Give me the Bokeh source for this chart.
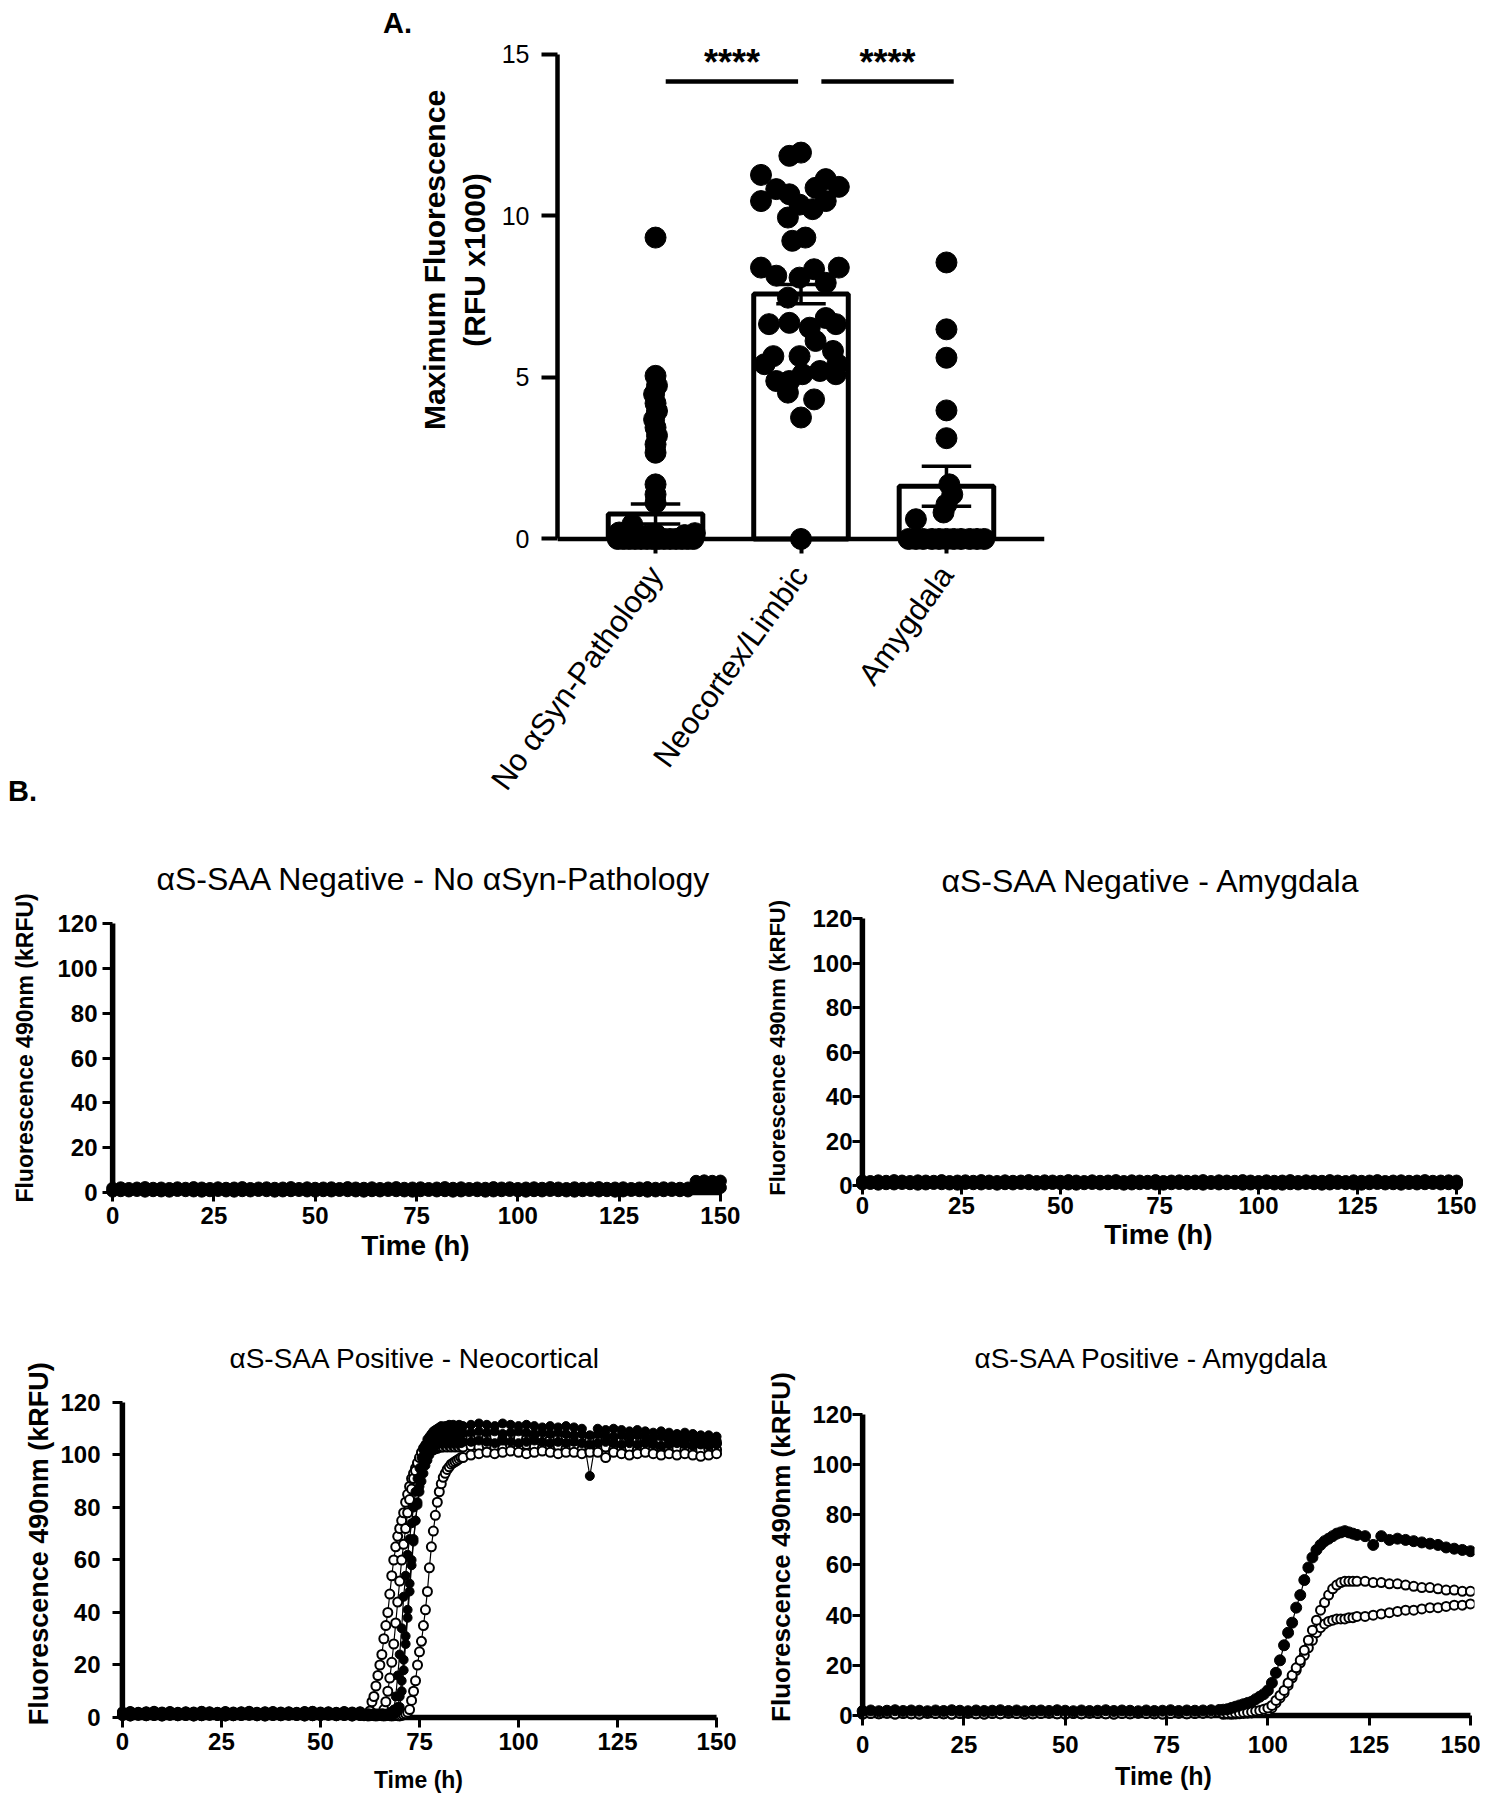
import math
from bokeh.plotting import figure
from bokeh.models import Range1d, Div, Spacer
from bokeh.layouts import column, row
from bokeh.embed import file_html
from bokeh.resources import INLINE

FONT = "Liberation Sans"
NB = "\u00a0"

# ---------------- Panel A data ----------------
categories = ["No αSyn-Pathology", "Neocortex/Limbic", "Amygdala"]
bar_means = [0.77, 7.58, 1.63]
bar_sems = [0.31, 0.30, 0.62]

g1_vals = [9.33, 5.05, 4.75, 4.48, 4.2, 3.96, 3.7, 3.45, 3.2, 2.93, 2.67, 1.69, 1.38, 1.12,
           0.45, 0.2, 0.15, 0.12, 0.18, 0.1,
           0, 0, 0, 0, 0, 0, 0, 0, 0, 0, 0, 0, 0, 0]
g2_vals = [11.86, 11.96, 11.27, 11.14, 10.90, 10.87, 10.83, 10.67, 10.46, 10.46, 10.21, 10.35,
           9.95, 9.23, 9.33, 8.40, 8.15, 8.09, 8.35, 8.40, 7.93, 7.47, 6.65, 6.69, 6.54, 6.84,
           6.65, 6.13, 5.82, 5.41, 5.66, 5.66, 5.41, 5.20, 5.10, 4.89, 4.89, 5.10, 4.53, 4.32,
           3.76, 0.0]
g3_vals = [8.56, 6.49, 5.61, 3.98, 3.12, 1.69, 1.38, 1.07, 0.82, 0.61,
           0, 0, 0, 0, 0, 0, 0, 0, 0, 0, 0]
comparisons = [(0, 1, "****"), (1, 2, "****")]

# horizontal scatter placement (beeswarm offsets, layout only)
g1_jit = [0, 0, 0.01, -0.01, 0, 0.01, -0.01, 0, 0.01, 0, 0, 0, 0, 0,
          -0.16, -0.25, 0.0, 0.2, 0.27, -0.06,
          -0.26, -0.22, -0.18, -0.14, -0.10, -0.06, -0.02, 0.02, 0.06, 0.10, 0.14, 0.18, 0.22, 0.26]
g2_jit = [-0.08, 0.0, -0.275, 0.17, 0.26, 0.10, -0.17, -0.08, -0.275, 0.17, 0.08, -0.01,
          -0.09, -0.06, 0.03, -0.275, -0.17, -0.01, 0.09, 0.26, 0.17, -0.09, -0.22, -0.08,
          0.06, 0.17, 0.24, 0.10, 0.22, 0.25, -0.19, -0.01, -0.25, 0.13, 0.24, -0.17, -0.08,
          0.01, -0.09, 0.09, 0.0, 0.0]
g3_jit = [0, 0, 0, 0, 0, 0.02, 0.04, 0.0, -0.02, -0.21,
          -0.26, -0.21, -0.16, -0.10, -0.05, 0, 0.05, 0.10, 0.16, 0.21, 0.26]

# ---------------- Panel B data ----------------
time_ticks = [0, 25, 50, 75, 100, 125, 150]
fluor_ticks = [0, 20, 40, 60, 80, 100, 120]

# negative panels: readings every 2 h
t_neg = list(range(0, 151, 2))
tl_low = [0.6, 0.8, 0.7, 0.9, 0.6, 0.8, 0.7, 0.6, 0.9, 0.8,
          0.7, 0.6, 0.8, 0.9, 0.7, 0.6, 0.8, 0.7, 0.9, 0.8,
          0.6, 0.7, 0.8, 0.9, 0.7, 0.6, 0.8, 0.7, 0.9, 0.8,
          0.7, 0.6, 0.8, 0.7, 0.9, 0.8, 0.7, 0.6, 0.8, 0.9,
          0.7, 0.8, 0.6, 0.7, 0.9, 0.8, 0.6, 0.7, 0.8, 0.9,
          0.7, 0.6, 0.8, 0.7, 0.9, 0.8, 0.7, 0.6, 0.8, 0.9,
          0.7, 0.8, 0.6, 0.7, 0.9, 0.8, 0.6, 0.7, 0.8, 0.9,
          0.8, 0.7, 5.0, 5.2, 5.0, 5.1]
tl_high = [1.9, 2.1, 1.8, 2.0, 2.2, 1.9, 2.0, 1.8, 2.1, 1.9,
           2.2, 2.0, 1.8, 2.1, 1.9, 2.0, 2.2, 1.8, 2.0, 2.1,
           1.9, 2.0, 2.2, 1.8, 2.1, 1.9, 2.0, 2.1, 1.8, 2.2,
           2.0, 1.9, 2.1, 1.8, 2.0, 2.2, 1.9, 2.0, 2.1, 1.8,
           2.0, 2.2, 1.9, 2.1, 1.8, 2.0, 1.9, 2.2, 2.0, 2.1,
           1.8, 2.0, 2.1, 1.9, 2.2, 2.0, 1.8, 2.1, 1.9, 2.0,
           2.2, 1.9, 2.0, 2.1, 1.8, 2.0, 2.2, 1.9, 2.1, 2.0,
           1.9, 2.0, 2.1, 1.9, 2.0, 2.2]
tr_low = [0.7, 0.9, 0.6, 0.8, 0.7, 0.9, 0.8, 0.6, 0.7, 0.9,
          0.8, 0.7, 0.6, 0.9, 0.8, 0.7, 0.9, 0.6, 0.8, 0.7,
          0.9, 0.8, 0.6, 0.7, 0.9, 0.8, 0.7, 0.6, 0.8, 0.9,
          0.7, 0.8, 0.9, 0.6, 0.7, 0.8, 0.9, 0.7, 0.6, 0.8,
          0.9, 0.7, 0.8, 0.6, 0.9, 0.7, 0.8, 0.9, 0.6, 0.7,
          0.8, 0.9, 0.7, 0.6, 0.8, 0.7, 0.9, 0.8, 0.6, 0.7,
          0.9, 0.8, 0.7, 0.6, 0.8, 0.9, 0.7, 0.8, 0.6, 0.9,
          0.7, 0.8, 0.9, 0.7, 0.8, 0.7]
tr_high = [2.0, 1.8, 2.1, 1.9, 2.2, 2.0, 1.8, 2.1, 2.0, 1.9,
           2.2, 1.8, 2.0, 2.1, 1.9, 2.2, 2.0, 1.8, 2.1, 1.9,
           2.0, 2.2, 1.8, 2.1, 2.0, 1.9, 2.2, 2.0, 1.8, 2.1,
           1.9, 2.0, 2.2, 1.8, 2.1, 2.0, 1.9, 2.2, 1.8, 2.0,
           2.1, 1.9, 2.0, 2.2, 1.8, 2.1, 2.0, 1.9, 2.2, 2.0,
           1.8, 2.1, 1.9, 2.0, 2.2, 1.8, 2.1, 2.0, 1.9, 2.2,
           2.0, 1.8, 2.1, 1.9, 2.0, 2.2, 1.8, 2.0, 2.1, 1.9,
           2.0, 2.2, 1.9, 2.0, 2.1, 2.0]

# Neocortical positive panel: 2 h readings to 60 h, 0.5 h readings 61-86 h, 2 h readings after
t_neo = list(range(0, 61, 2)) + [61 + 0.5 * i for i in range(51)] + list(range(88, 151, 2))
neo_base_a = [0.8, 0.6, 0.9, 0.7, 0.8, 0.6, 0.9, 0.7, 0.8, 0.6,
              0.7, 0.9, 0.8, 0.6, 0.7, 0.8, 0.9, 0.7, 0.6, 0.8,
              0.7, 0.9, 0.8, 0.6, 0.7, 0.8, 0.9, 0.7, 0.8, 0.6, 0.8]
neo_base_b = [2.1, 2.3, 2.0, 2.2, 2.4, 2.1, 2.3, 2.0, 2.2, 2.1,
              2.4, 2.2, 2.0, 2.3, 2.1, 2.2, 2.4, 2.0, 2.2, 2.3,
              2.1, 2.2, 2.0, 2.3, 2.4, 2.1, 2.2, 2.0, 2.3, 2.1, 2.2]
neo_open_1 = neo_base_b + [
    1.0, 1.0, 1.3, 2.5, 6, 8, 12, 16, 20, 24,
    30, 35, 40, 47, 54, 60, 65, 69, 72, 75,
    78, 82, 85, 88, 91, 93, 95, 96.5, 98, 99,
    100, 100.5, 101, 101.5, 102, 102, 102.5, 102.5, 103, 103,
    103, 103.5, 103, 103.5, 103, 103.5, 103, 103.5, 103, 103.5, 103] + [
    103.5, 103, 104, 103, 102.5, 103.5, 103, 104, 103, 102.5,
    103, 103.5, 102.5, 103, 102, 103, 102.5, 103, 102, 102.5,
    103, 102, 102.5, 102, 103, 102, 102.5, 102, 101.5, 102, 102.5, 102]
neo_open_2 = neo_base_a + [
    1.0, 1.1, 0.9, 1.0, 1.1, 1.0, 0.9, 1.0, 1.2, 1.6,
    3, 6, 10, 15, 21, 28, 36, 44, 52, 60,
    66, 72, 78, 83, 87, 91, 94, 97, 99, 101,
    102.5, 103.5, 104, 104.5, 105, 105, 105.5, 105.5, 106, 106,
    106, 106.5, 106, 106.5, 106, 106.5, 106, 106.5, 106, 106.5, 106] + [
    106.5, 107, 106.5, 107, 106, 107, 106.5, 106, 107, 106.5,
    106, 106.5, 107, 106, 106.5, 106, 105.5, 106.5, 106, 105.5,
    106, 105.5, 106, 105, 105.5, 106, 105, 105.5, 105, 104.5, 105, 104.5]
neo_open_3 = neo_base_a + [
    0.7, 0.8, 0.6, 0.7, 0.8, 0.7, 0.6, 0.7, 0.8, 0.7,
    0.6, 0.7, 0.8, 0.7, 0.6, 0.7, 0.8, 0.7, 0.6, 0.8, 1.0, 1.4, 2.0,
    3, 6.5, 10, 14, 20, 25, 29,
    35, 41, 48, 57, 65, 71, 77, 82, 86, 89,
    91.5, 93, 94.5, 95.5, 96.5, 97, 97.5, 98, 98.5, 99, 99] + [
    100, 100.5, 101, 100.5, 101, 101.5, 101, 100.5, 101, 101.5,
    101, 100.5, 101, 101, 100.5, 101, 101, 99, 101, 100.5,
    100, 100.5, 101, 100.5, 100, 100.5, 100, 100.5, 100, 99.5, 100, 100.5]
neo_filled_1 = neo_base_b + [
    1.5, 1.4, 1.6, 1.5, 1.4, 1.6, 1.5, 1.5, 1.4, 1.6, 1.5, 1.4, 1.6, 1.8, 2.2,
    3, 8, 16, 24, 34,
    46, 54, 62, 68, 74, 80, 86, 91, 95, 99,
    102, 104, 106, 107, 108, 109, 109.5, 110, 110.5, 111,
    110.5, 111, 111, 111.5, 111, 111.5, 111, 111, 111.5, 111, 111] + [
    111.5, 112, 111.5, 111, 112, 111.5, 111, 111.5, 111, 110.5,
    111, 110.5, 111, 110.5, 110, 92, 110, 109.5, 110, 109.5,
    109, 109.5, 109, 108.5, 109, 108.5, 108, 108.5, 108, 107.5, 107.5, 107]
neo_filled_2 = neo_base_a + [
    0.8, 0.9, 0.7, 0.8, 0.9, 0.8, 0.7, 0.8, 0.9, 0.8, 0.7, 0.8, 0.9, 0.8, 1.0, 1.2, 1.6, 2.5,
    4, 10, 18, 28, 38, 48, 58, 67, 75, 82,
    88, 93, 97, 100, 102, 104, 105.5, 106.5, 107, 107.5,
    108, 108, 108.5, 108, 108.5, 108, 108.5, 108, 108.5, 108,
    108.5, 108, 108.5] + [
    108.5, 109, 108.5, 109, 108, 108.5, 109, 108.5, 108, 108.5,
    108, 108.5, 108, 107.5, 108, 107.5, 108, 107.5, 107, 107.5,
    107, 107.5, 107, 106.5, 107, 106.5, 106, 106.5, 106, 105.5, 106, 105.5]
neo_filled_3 = neo_base_b + [
    1.2, 1.1, 1.3, 1.2, 1.1, 1.3, 1.2, 1.1, 1.3, 1.2, 1.1, 1.3, 1.2, 1.4, 1.6, 2.0, 2.6,
    4, 8, 14, 22, 31, 41, 51, 60, 68, 75,
    81, 86, 90, 93, 96, 98, 100, 101.5, 102.5, 103.5,
    104, 104.5, 104.5, 105, 104.5, 105, 104.5, 105, 104.5, 105,
    104.5, 105, 104.5, 105] + [
    105, 105.5, 105, 104.5, 105.5, 105, 104.5, 105, 105.5, 105,
    104.5, 105, 104.5, 105, 104.5, 104, 104.5, 105, 104.5, 104,
    104.5, 104, 104.5, 104, 103.5, 104, 104.5, 104, 103.5, 104, 103.5, 104]

# Amygdala positive panel: 2 h readings to 88 h, 1 h readings 89-122 h, 2 h readings after
t_amy = list(range(0, 89, 2)) + list(range(89, 123)) + list(range(124, 151, 2))
amy_base_a = [0.6, 0.8, 0.7, 0.9, 0.6, 0.8, 0.7, 0.6, 0.9, 0.8,
              0.7, 0.6, 0.8, 0.9, 0.7, 0.6, 0.8, 0.7, 0.9, 0.8,
              0.6, 0.7, 0.8, 0.9, 0.7, 0.6, 0.8, 0.7, 0.9, 0.8,
              0.7, 0.6, 0.8, 0.7, 0.9, 0.8, 0.7, 0.6, 0.8, 0.9,
              0.7, 0.8, 0.9, 1.0, 1.2]
amy_base_b = [1.8, 2.0, 1.7, 1.9, 2.1, 1.8, 2.0, 1.9, 1.7, 2.0,
              1.8, 2.1, 1.9, 1.7, 2.0, 1.8, 1.9, 2.1, 1.8, 2.0,
              1.7, 1.9, 2.0, 1.8, 2.1, 1.9, 1.7, 2.0, 1.8, 1.9,
              2.1, 1.8, 2.0, 1.9, 1.7, 2.0, 1.8, 1.9, 2.1, 1.8,
              2.0, 1.9, 2.0, 2.1, 2.2]
amy_filled_1 = amy_base_b + [
    2.3, 2.5, 3, 3.5, 4, 4.5, 5, 5.5, 6.5, 7.5,
    8.5, 10, 13, 17, 22, 28, 33, 37, 43, 48,
    54, 59, 63, 66, 68, 69.5, 70.5, 71.5, 72.5, 73,
    73.5, 73, 72.5, 72] + [
    71.5, 68, 71.5, 70, 70.5, 70, 69.5, 69, 68.5, 68, 67, 66.5, 66, 65.5]
amy_open_1 = amy_base_a + [
    0.8, 0.8, 0.9, 1.0, 1.0, 1.2, 1.3, 1.5, 1.8, 2.0,
    2.5, 3, 4, 6, 8, 10, 13, 16, 19, 22,
    26, 30, 34, 38, 42, 45, 48, 50.5, 52, 53,
    53.5, 53.5, 53.5, 53.5] + [
    53.5, 53, 53, 52.5, 52.5, 52, 51.5, 51, 51, 50.5, 50, 50, 49.5, 49.5]
amy_open_2 = amy_base_a + [
    0.5, 0.6, 0.5, 0.6, 0.7, 0.8, 0.9, 1.0, 1.2, 1.4,
    1.7, 2.0, 3, 5, 7, 9, 12, 15, 18, 21,
    24, 27, 30, 33, 35, 36.5, 37.5, 38, 38.5, 38.5,
    38.5, 39, 39, 39.5] + [
    39.5, 40, 40.5, 41, 41.5, 42, 42, 42.5, 43, 43, 43.5, 44, 44, 44.5]

for series, grid in [(tl_low, t_neg), (tl_high, t_neg), (tr_low, t_neg), (tr_high, t_neg),
                     (neo_open_1, t_neo), (neo_open_2, t_neo), (neo_open_3, t_neo),
                     (neo_filled_1, t_neo), (neo_filled_2, t_neo), (neo_filled_3, t_neo),
                     (amy_filled_1, t_amy), (amy_open_1, t_amy), (amy_open_2, t_amy)]:
    assert len(series) == len(grid), (len(series), len(grid))
assert len(g1_vals) == len(g1_jit) and len(g2_vals) == len(g2_jit) and len(g3_vals) == len(g3_jit)


def base_style(p):
    p.grid.visible = False
    p.outline_line_color = None
    p.background_fill_color = "white"
    p.border_fill_color = "white"
    p.axis.axis_line_color = "black"
    p.axis.major_tick_line_color = "black"
    p.axis.minor_tick_line_color = None
    p.axis.major_label_text_color = "black"
    p.axis.major_label_text_font = FONT
    p.axis.axis_label_text_font = FONT
    p.axis.axis_label_text_color = "black"
    p.axis.axis_label_text_font_style = "bold"


# ---------------- Panel A ----------------
A_mbl, A_mbt, A_fw, A_fh = 145, 33, 487, 512
A_xr, A_yr = (0.326, 3.674), (-0.45, 15.4)
pA = figure(frame_width=A_fw, frame_height=A_fh, x_range=Range1d(*A_xr), y_range=Range1d(*A_yr),
            min_border_left=A_mbl, min_border_right=30, min_border_top=A_mbt, min_border_bottom=257,
            output_backend="svg", toolbar_location=None)
base_style(pA)

pos = [1, 2, 3]
pA.vbar(x=pos, top=bar_means, width=0.65, fill_color="white", line_color="black", line_width=5)

xs, ys = [], []
for gi, (vals, jit) in enumerate([(g1_vals, g1_jit), (g2_vals, g2_jit), (g3_vals, g3_jit)]):
    for v, j in zip(vals, jit):
        xs.append(pos[gi] + j)
        ys.append(v)
pA.scatter(x=xs, y=ys, size=21, marker="circle", fill_color="black", line_color="black")

lo = [m - s for m, s in zip(bar_means, bar_sems)]
hi = [m + s for m, s in zip(bar_means, bar_sems)]
cap = 0.17
pA.segment(x0=pos, y0=lo, x1=pos, y1=hi, line_color="black", line_width=3.5)
pA.segment(x0=[x - cap for x in pos], y0=hi, x1=[x + cap for x in pos], y1=hi, line_color="black", line_width=3.5)
pA.segment(x0=[x - cap for x in pos], y0=lo, x1=[x + cap for x in pos], y1=lo, line_color="black", line_width=3.5)
# x axis baseline at zero
pA.segment(x0=[A_xr[0]], y0=[0], x1=[A_xr[1]], y1=[0], line_color="black", line_width=4.5)

sig_y, star_y = 14.16, 14.75
for (i, j, txt), (a, b) in zip(comparisons, [(0.07, -0.02), (0.14, 0.05)]):
    x0, x1 = pos[i] + a, pos[j] + b
    pA.segment(x0=[x0], y0=[sig_y], x1=[x1], y1=[sig_y], line_color="black", line_width=4.5)
    pA.text(x=[(x0 + x1) / 2], y=[star_y], text=[txt], text_font_size="36px", text_font_style="bold",
            text_align="center", text_baseline="middle", text_color="black")

pA.yaxis.bounds = (0, 15)
pA.xaxis.axis_line_color = None
pA.yaxis.axis_line_width = 4.5
pA.axis.major_tick_line_width = 4
pA.yaxis.major_tick_in = 0
pA.yaxis.major_tick_out = 16
pA.xaxis.major_tick_in = 15
pA.xaxis.major_tick_out = 0
pA.yaxis.ticker = [0, 5, 10, 15]
pA.yaxis.major_label_text_font_size = "25px"
pA.yaxis.major_label_standoff = 12
pA.yaxis.axis_label = NB * 9 + "Maximum Fluorescence\n" + NB * 9 + "(RFU x1000)"
pA.yaxis.axis_label_text_font_size = "30px"
pA.yaxis.axis_label_standoff = 8
pA.xaxis.ticker = pos
pA.xaxis.major_label_overrides = {p_: c for p_, c in zip(pos, categories)}
pA.xaxis.major_label_orientation = math.radians(54)
pA.xaxis.major_label_text_font_size = "31px"
pA.xaxis.major_label_standoff = 16

lbl_style = {"font-family": FONT, "font-size": "29px", "font-weight": "bold",
             "line-height": "30px", "color": "black"}
divA = Div(text="A.", width=404, height=30, margin=0, styles=dict(lbl_style, **{"text-align": "right"}))
divB = Div(text="B.", width=402, height=30, margin=0, styles=dict(lbl_style, **{"text-align": "left"}))
left_col = column(divA, Spacer(width=402, height=738, margin=0), divB, spacing=0)


# ---------------- Panel B ----------------
def ts_fig(mbl, mbr, mbt, mbb, fw, fh, xr, yr, title, t_size, t_off, t_stand,
           xl_stand, yl_stand, ylab, ylab_size, ylab_stand, xlab_size, xlab_stand):
    p = figure(frame_width=fw, frame_height=fh, x_range=Range1d(*xr), y_range=Range1d(*yr),
               min_border_left=mbl, min_border_right=mbr, min_border_top=mbt, min_border_bottom=mbb,
               output_backend="svg", toolbar_location=None)
    base_style(p)
    p.title.text = title
    p.title.align = "left"
    p.title.offset = t_off
    p.title.standoff = t_stand
    p.title.text_font = FONT
    p.title.text_font_size = f"{t_size}px"
    p.title.text_font_style = "normal"
    p.title.text_color = "black"
    p.axis.axis_line_color = None
    # axis lines drawn at zero, spanning the tick range
    p.segment(x0=[time_ticks[0]], y0=[0], x1=[time_ticks[-1]], y1=[0], line_color="black", line_width=5.5)
    p.segment(x0=[0], y0=[fluor_ticks[0]], x1=[0], y1=[fluor_ticks[-1]], line_color="black", line_width=5.5)
    p.xaxis.ticker = time_ticks
    p.yaxis.ticker = fluor_ticks
    p.axis.major_tick_line_width = 3
    p.axis.major_tick_out = 0
    p.xaxis.major_tick_in = round(-yr[0] * fh / (yr[1] - yr[0]))
    p.yaxis.major_tick_in = round(-xr[0] * fw / (xr[1] - xr[0]))
    p.axis.major_label_text_font_size = "24px"
    p.axis.major_label_text_font_style = "bold"
    p.xaxis.major_label_standoff = xl_stand
    p.yaxis.major_label_standoff = yl_stand
    p.yaxis.axis_label = ylab
    p.yaxis.axis_label_text_font_size = f"{ylab_size}px"
    p.yaxis.axis_label_standoff = ylab_stand
    p.xaxis.axis_label = "Time (h)"
    p.xaxis.axis_label_text_font_size = f"{xlab_size}px"
    p.xaxis.axis_label_standoff = xlab_stand
    return p


def draw(p, t, v, filled, size=9):
    p.line(t, v, line_color="black", line_width=1.2)
    if filled:
        p.scatter(t, v, size=size, marker="circle", fill_color="black", line_color="black", line_width=1)
    else:
        p.scatter(t, v, size=size, marker="circle", fill_color="white", line_color="black", line_width=2)


YLAB = "Fluorescence 490nm (kRFU)"

# top-left
pTL = ts_fig(94, 14, 103, 79, 626, 288, (-2.5, 152), (-4.01, 124.46),
             "αS-SAA Negative - No αSyn-Pathology", 32, 54, 33,
             5, 5, NB * 3 + YLAB, 23, 16, 28, 3)
draw(pTL, t_neg, tl_high, True, 12)
draw(pTL, t_neg, tl_low, True, 12)

# top-right
pTR = ts_fig(110, 16, 103, 79, 612, 281, (-2.5, 152), (-4.04, 122.25),
             "αS-SAA Negative - Amygdala", 32, 89, 29,
             2, 0, NB * 2 + YLAB, 22, 19, 28, 2)
draw(pTR, t_neg, tr_high, True, 12)
draw(pTR, t_neg, tr_low, True, 12)

# bottom-left
pBL = ts_fig(104, 18, 117, 71, 612, 330, (-2.5, 152), (-3.81, 121.9),
             "αS-SAA Positive - Neocortical", 28, 117, 48,
             5, 12, NB * 5 + YLAB, 27, 3, 23, 14)
for vals in [neo_open_1, neo_open_2, neo_open_3]:
    draw(pBL, t_neo, vals, False)
for vals in [neo_filled_3, neo_filled_2, neo_filled_1]:
    draw(pBL, t_neo, vals, True)

# bottom-right
pBR = ts_fig(110, 6, 117, 71, 622, 328, (-2.5, 151), (-3.99, 126.78),
             "αS-SAA Positive - Amygdala", 28, 122, 48,
             10, 0, NB * 4 + YLAB, 26, 13, 25, 6)
draw(pBR, t_amy, amy_open_2, False)
draw(pBR, t_amy, amy_open_1, False)
draw(pBR, t_amy, amy_filled_1, True, 11)

body = column(row(left_col, pA, spacing=0), row(pTL, pTR, spacing=0), row(pBL, pBR, spacing=0), spacing=0)
layout = row(Spacer(width=8, height=8, margin=0), column(Spacer(width=8, height=8, margin=0), body, spacing=0), spacing=0)
open("out.html", "w").write(file_html(layout, INLINE))
